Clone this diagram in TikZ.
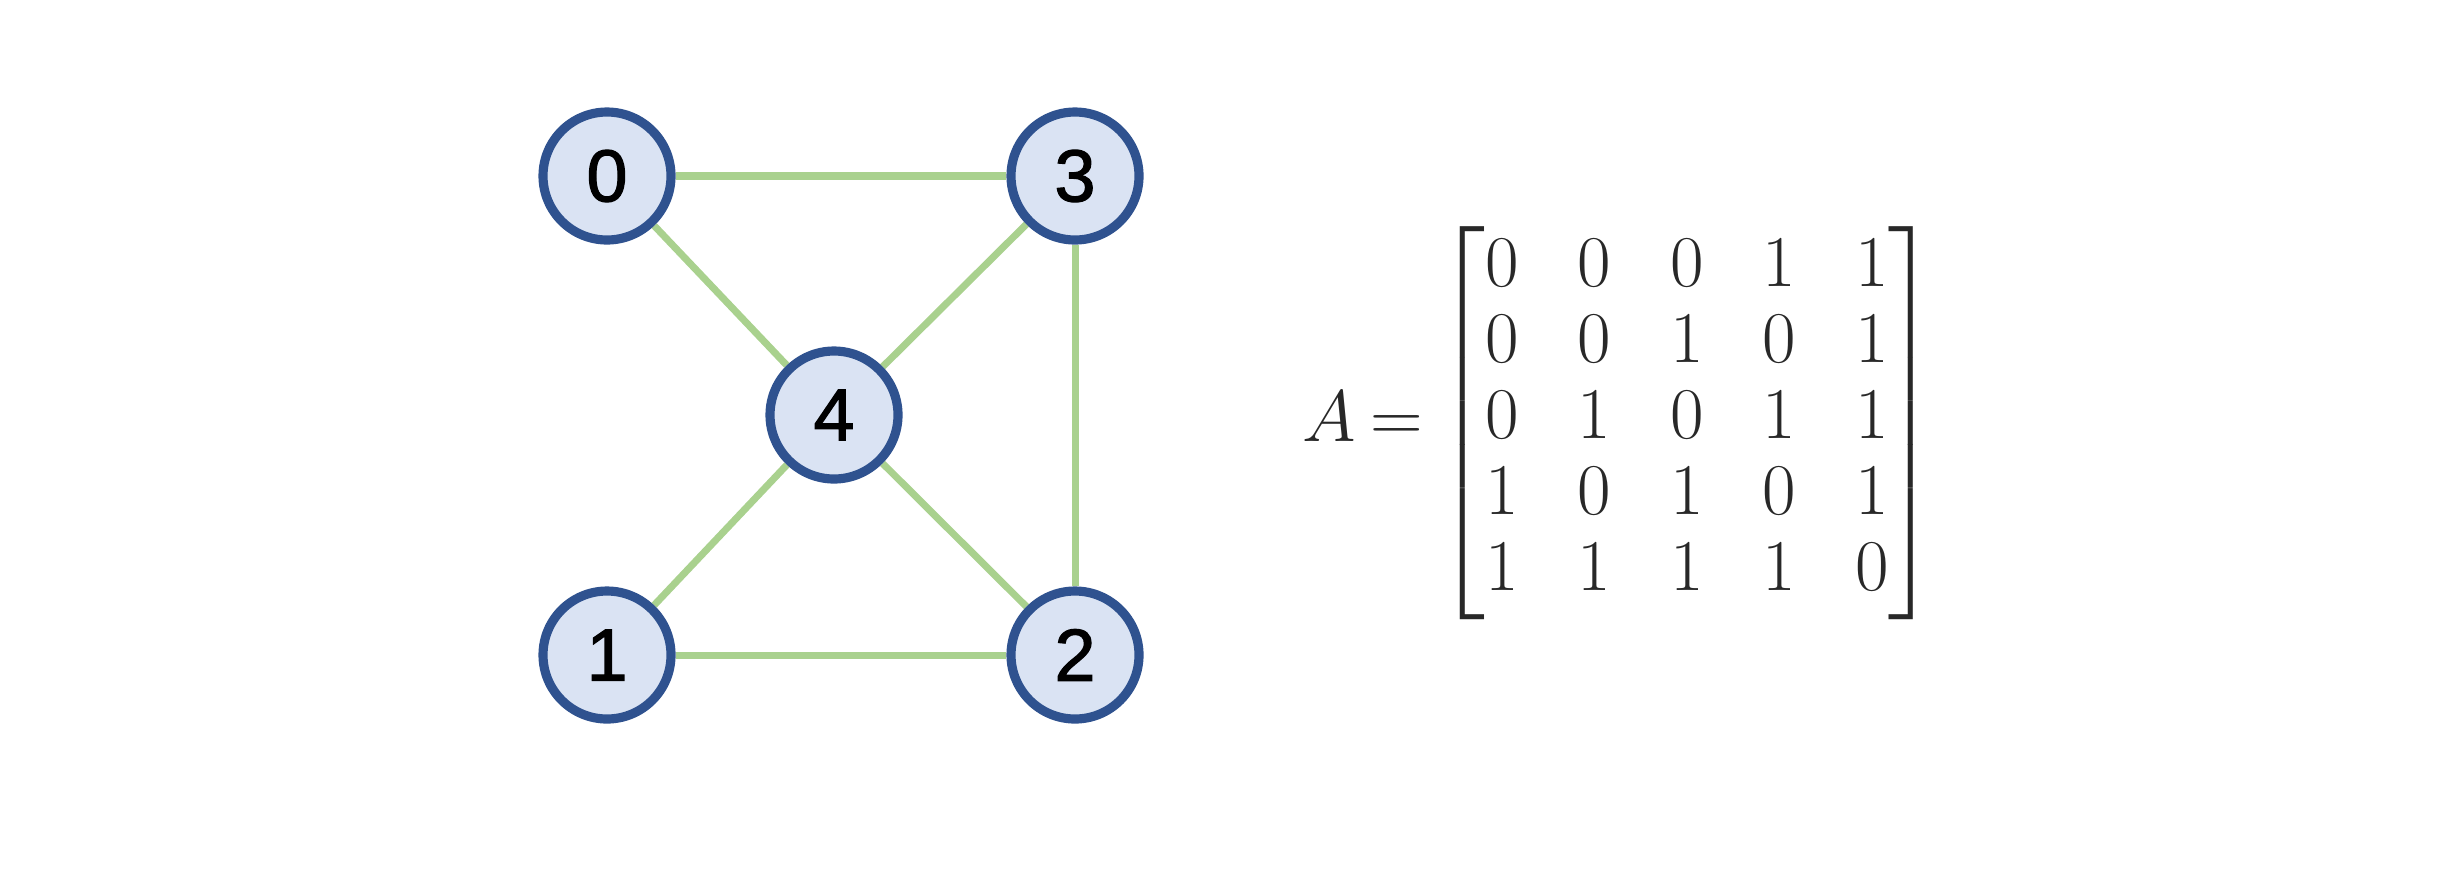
\documentclass[tikz,border=0pt]{standalone}
\usepackage{amsmath}
\usepackage{fontspec}
\newfontfamily\nodefont[FakeBold=1.6]{Liberation Sans}
\usetikzlibrary{positioning,backgrounds}
\definecolor{nodeFill}{RGB}{218,227,243}
\definecolor{nodeBorder}{RGB}{47,82,143}
\definecolor{edgeGreen}{RGB}{169,209,142}
\definecolor{matGray}{RGB}{40,40,40}
\tikzset{
  vertex/.style={circle, draw=nodeBorder, fill=nodeFill, line width=2.6pt,
    minimum size=1.28cm, inner sep=0pt, font=\nodefont\fontsize{21}{24}\selectfont},
  edge/.style={draw=edgeGreen, line width=2pt},
}

\begin{document}
\begin{tikzpicture}
\useasboundingbox (0,0) rectangle (24.4,-8.74);

%% GRAPH
\node[vertex] (v0) at (6.07,-1.76) {0};
\node[vertex] (v3) at (10.75,-1.76) {3};
\node[vertex] (v4) at (8.34,-4.15) {4};
\node[vertex] (v1) at (6.07,-6.55) {1};
\node[vertex] (v2) at (10.75,-6.55) {2};

\begin{scope}[on background layer]
  \draw[edge] (v0) -- (v3);
  \draw[edge] (v0) -- (v4);
  \draw[edge] (v3) -- (v4);
  \draw[edge] (v3) -- (v2);
  \draw[edge] (v4) -- (v1);
  \draw[edge] (v4) -- (v2);
  \draw[edge] (v1) -- (v2);
\end{scope}

%% ADJACENCY MATRIX
\node[text=matGray, inner sep=0pt, anchor=east] (adj) at (19.38,-4.23)
  {\fontsize{20.6}{21.6}\selectfont\arraycolsep=8.4pt\thickmuskip=3.5mu
   $A=\begin{bmatrix}
     0&0&0&1&1\\
     0&0&1&0&1\\
     0&1&0&1&1\\
     1&0&1&0&1\\
     1&1&1&1&0
   \end{bmatrix}$};

\end{tikzpicture}
\end{document}
